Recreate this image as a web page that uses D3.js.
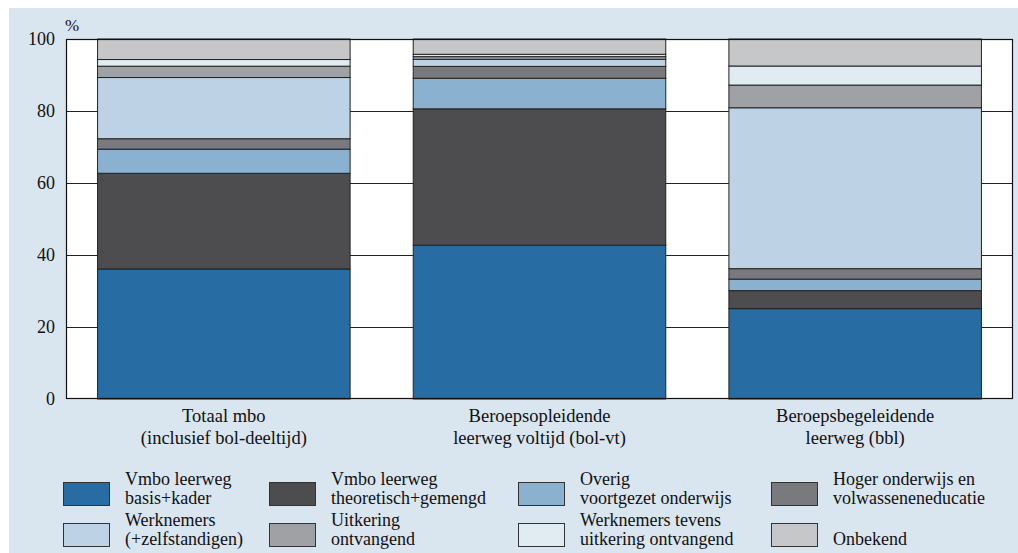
<!DOCTYPE html>
<html><head><meta charset="utf-8">
<script src="https://cdn.jsdelivr.net/npm/d3@7"></script>
<style>html,body{margin:0;padding:0;background:#fff;}svg text{font-family:"Liberation Serif","DejaVu Serif","Times New Roman",serif;}</style>
</head><body>
<svg id="c" width="1018" height="553"></svg>
<script>
const categories = [
  ["Totaal mbo", "(inclusief bol-deeltijd)"],
  ["Beroepsopleidende", "leerweg voltijd (bol-vt)"],
  ["Beroepsbegeleidende", "leerweg (bbl)"]
];
const seriesNames = [
  ["Vmbo leerweg", "basis+kader"],
  ["Vmbo leerweg", "theoretisch+gemengd"],
  ["Overig", "voortgezet onderwijs"],
  ["Hoger onderwijs en", "volwasseneneducatie"],
  ["Werknemers", "(+zelfstandigen)"],
  ["Uitkering", "ontvangend"],
  ["Werknemers tevens", "uitkering ontvangend"],
  ["", "Onbekend"]
];
const colors = ["#276da4", "#4d4d4f", "#8ab2d0", "#797a7e", "#bdd3e5", "#a0a1a5", "#e1ebf2", "#c6c7c9"];
// values per series, in category order
const basisKader   = [36.1, 42.7, 25.1];
const theoretisch  = [26.6, 37.9, 5.0];
const overigVo     = [6.7, 8.5, 3.2];
const hogerOnd     = [2.9, 3.3, 2.9];
const werknemers   = [17.0, 1.95, 44.7];
const uitkering    = [3.15, 0.75, 6.3];
const tevens       = [1.85, 0.65, 5.3];
const onbekend     = [5.7, 4.25, 7.5];
const yTicks = [0, 20, 40, 60, 80, 100];

const seriesValues = [basisKader, theoretisch, overigVo, hogerOnd, werknemers, uitkering, tevens, onbekend];
const FONT = '"Liberation Serif","DejaVu Serif","Times New Roman",serif';

const svg = d3.select("#c");
svg.append("rect").attr("x", 9).attr("y", 8).attr("width", 1009).attr("height", 545).attr("fill", "#d9e5ef");

const L = 66, R = 1013, T = 39, B = 399;
const x = d3.scaleBand().domain(d3.range(categories.length)).range([L, R]).paddingInner(0.2).paddingOuter(0.1);
const y = d3.scaleLinear().domain([0, 100]).range([B, T]);

svg.append("rect").attr("x", L).attr("y", T).attr("width", R - L).attr("height", B - T).attr("fill", "#fff");

// gridlines
svg.append("g").selectAll("line").data(yTicks.filter(d => d > 0 && d < 100)).join("line")
  .attr("x1", L).attr("x2", R).attr("y1", d => Math.round(y(d)) + 0.5).attr("y2", d => Math.round(y(d)) + 0.5)
  .attr("stroke", "#222").attr("stroke-width", 1);

// stacked data
const rows = categories.map((c, i) => {
  const o = {i};
  seriesValues.forEach((s, k) => o["s" + k] = s[i]);
  return o;
});
const stack = d3.stack().keys(seriesValues.map((s, k) => "s" + k));
const stacked = stack(rows);

const g = svg.append("g");
stacked.forEach((layer, k) => {
  g.append("g").selectAll("rect").data(layer).join("rect")
    .attr("x", d => x(d.data.i))
    .attr("width", x.bandwidth())
    .attr("y", d => y(d[1]))
    .attr("height", d => y(d[0]) - y(d[1]))
    .attr("fill", colors[k])
    .attr("stroke", "#222").attr("stroke-width", 1);
});

// frame
svg.append("rect").attr("x", L + 0.5).attr("y", T + 0.5).attr("width", R - L - 1).attr("height", B - T - 1)
  .attr("fill", "none").attr("stroke", "#111").attr("stroke-width", 1.2);

// y axis labels
const yAxis = d3.axisLeft(y).tickValues(yTicks).tickSize(0).tickPadding(11);
const ya = svg.append("g").attr("transform", `translate(${L},0)`).call(yAxis);
ya.attr("font-family", FONT);
ya.select(".domain").remove();
ya.selectAll("text").attr("font-family", FONT).attr("font-size", 18).attr("fill", "#111");

svg.append("text").attr("x", 65).attr("y", 31).attr("font-family", FONT).attr("font-size", 17).attr("fill", "#111").text("%");

// category labels
const xa = svg.append("g");
categories.forEach((c, i) => {
  c.forEach((line, j) => xa.append("text").attr("text-anchor", "middle").attr("font-family", FONT)
    .attr("font-size", 18.5).attr("fill", "#111")
    .attr("x", x(i) + x.bandwidth() / 2).attr("y", 422 + j * 22).text(line));
});

// legend
const colX = [63, 269, 518, 771];
const rowY = [482, 523];
const lg = svg.append("g");
seriesNames.forEach((nm, k) => {
  const col = k % 4, row = Math.floor(k / 4);
  const sx = colX[col], sy = rowY[row];
  lg.append("rect").attr("x", sx + 0.5).attr("y", sy + 0.5).attr("width", 46).attr("height", 23)
    .attr("fill", colors[k]).attr("stroke", "#333").attr("stroke-width", 1);
  nm.forEach((line, j) => {
    if (line) lg.append("text").attr("font-family", FONT).attr("font-size", 18).attr("fill", "#111")
      .attr("x", sx + 62).attr("y", sy + 3 + j * 18.5).text(line);
  });
});
</script>
</body></html>
